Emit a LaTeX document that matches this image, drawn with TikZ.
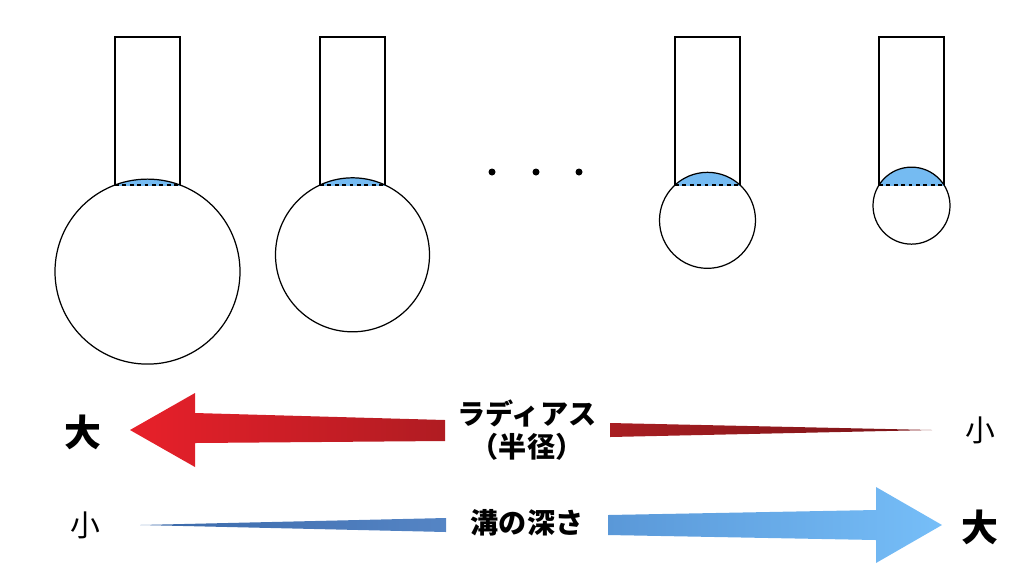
\documentclass[tikz,border=0pt]{standalone}
\usepackage{fontspec}
\newfontfamily\jp{Noto Sans CJK JP}
\usepackage{tikz}
\usetikzlibrary{positioning,calc}

\definecolor{capblue}{HTML}{75BBF2}
\definecolor{redL}{HTML}{E8202A}
\definecolor{redR}{HTML}{B01C22}
\definecolor{darkL}{HTML}{A81E22}
\definecolor{darkR}{HTML}{7A1418}
\definecolor{blueL}{HTML}{3A68A8}
\definecolor{blueR}{HTML}{5585C5}
\definecolor{skyL}{HTML}{5A98D8}
\definecolor{skyR}{HTML}{76BEF8}

\begin{document}
\begin{tikzpicture}[
  x=0.02cm, y=-0.02cm,
  outline/.style={draw, line width=0.7pt},
  chord/.style={line width=0.7pt, dash pattern=on 2.2pt off 2pt},
  bigword/.style={font=\jp\bfseries\fontsize{21}{24}\selectfont, inner sep=0pt},
  smallword/.style={font=\jp\fontsize{17}{20}\selectfont, inner sep=0pt},
  caption/.style={font=\jp\bfseries\fontsize{16}{18.8}\selectfont, align=center, inner sep=0pt}
]
  \useasboundingbox (0,0) rectangle (1024,576);

  % tools: left x of shank / ball radius (px)
  \foreach \tx/\r in {115/92.5, 320/77, 675/48, 879/38.5} {
    \pgfmathsetmacro{\cx}{\tx+32.5}
    \pgfmathsetmacro{\cy}{185+sqrt(\r*\r-32.5*32.5)}
    \begin{scope}
      \clip (\tx,100) rectangle ({\tx+65},185);
      \fill[capblue] (\cx,\cy) circle[radius=\r*0.02cm];
    \end{scope}
    \draw[chord] (\tx,185) -- ({\tx+65},185);
    \draw[outline] (\tx,185) -- (\tx,37) -- ({\tx+65},37) -- ({\tx+65},185);
    \draw[outline] (\cx,\cy) circle[radius=\r*0.02cm];
  }

  % dots
  \foreach \dx in {492,536,579}
    \fill (\dx,172) circle[radius=0.07cm];

  % labels
  \node[bigword] (lbig) at (83,432) {大};
  \node[smallword] (rsmall) at (980,430) {小};
  \node[caption] (radius) at (527,430) {ラディアス\\（半径）};
  \node[smallword] (lsmall) at (85,525) {小};
  \node[caption] (depth) at (527,523) {溝の深さ};
  \node[bigword] (rbig) at (980,527) {大};

  % radius arrows
  \shade[left color=redL, right color=redR]
    (445,420) -- (195,413) -- (195,393) -- (130,430) -- (195,467)
    -- (195,443) -- (445,441) -- cycle;
  \shade[left color=darkL, right color=darkR]
    (610,423) -- (932,430) -- (610,437) -- cycle;

  % depth arrows
  \shade[left color=blueL, right color=blueR]
    (140,525) -- (446,518) -- (446,532) -- cycle;
  \shade[left color=skyL, right color=skyR]
    (608,515) -- (876,510) -- (876,487) -- (942,525) -- (876,563)
    -- (876,540) -- (608,535) -- cycle;
\end{tikzpicture}
\end{document}
